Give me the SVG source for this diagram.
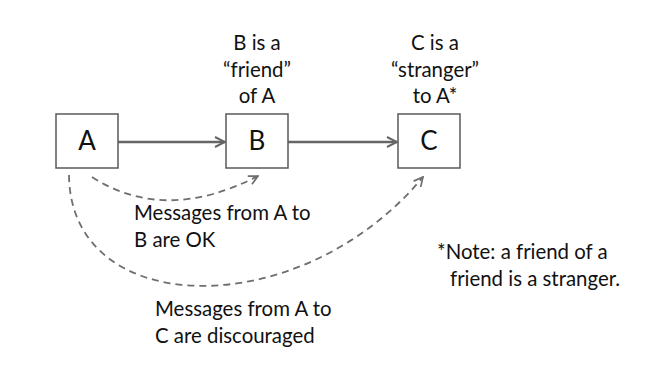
<svg xmlns="http://www.w3.org/2000/svg" width="655" height="378" viewBox="0 0 655 378">
  <style>
    .box { fill: #ffffff; stroke: #595959; stroke-width: 1.5; }
    .big { font-family: Lato, "Open Sans", "Liberation Sans", sans-serif; font-size: 26px; fill: #111; text-anchor: middle; }
    .lbl { font-family: Lato, "Open Sans", "Liberation Sans", sans-serif; font-size: 20.4px; fill: #111; }
    .mid { text-anchor: middle; }
    .solid { fill: none; stroke: #666; stroke-width: 2.5; }
    .dash { fill: none; stroke: #6e6e6e; stroke-width: 1.8; stroke-dasharray: 7 5; }
  </style>
  <defs>
    <marker id="open" viewBox="0 0 12 12" refX="11" refY="6" markerWidth="12" markerHeight="12" markerUnits="userSpaceOnUse" orient="auto">
      <path d="M1,1 L11,6 L1,11" fill="none" stroke="#666" stroke-width="2"/>
    </marker>
    <marker id="openThin" viewBox="0 0 12 12" refX="11" refY="6" markerWidth="11" markerHeight="11" markerUnits="userSpaceOnUse" orient="auto">
      <path d="M1,1 L11,6 L1,11" fill="none" stroke="#6e6e6e" stroke-width="1.8"/>
    </marker>
  </defs>

  <g id="connectors">
    <line class="solid" x1="118" y1="142" x2="225" y2="142" marker-end="url(#open)"/>
    <line class="solid" x1="288" y1="142" x2="397" y2="142" marker-end="url(#open)"/>
    <path class="dash" d="M92,177 Q165,224 258,176" marker-end="url(#openThin)"/>
    <path class="dash" d="M69,175 C70,320 300,325 423,177" marker-end="url(#openThin)"/>
  </g>

  <g id="node-a">
    <rect class="box" x="56" y="114" width="62" height="54"/>
    <text class="big" x="87" y="150">A</text>
  </g>
  <g id="node-b">
    <rect class="box" x="226" y="114" width="62" height="54"/>
    <text class="big" x="257" y="150">B</text>
    <text class="lbl mid" x="257" y="50">B is a</text>
    <text class="lbl mid" x="257" y="77">“friend”</text>
    <text class="lbl mid" x="257" y="103">of A</text>
  </g>
  <g id="node-c">
    <rect class="box" x="398" y="114" width="62" height="54"/>
    <text class="big" x="429" y="150">C</text>
    <text class="lbl mid" x="435" y="50">C is a</text>
    <text class="lbl mid" x="435" y="77">“stranger”</text>
    <text class="lbl mid" x="435" y="103">to A*</text>
  </g>

  <g id="label-ok">
    <text class="lbl" x="134" y="220">Messages from A to</text>
    <text class="lbl" x="134" y="247">B are OK</text>
  </g>
  <g id="label-discouraged">
    <text class="lbl" x="155" y="316">Messages from A to</text>
    <text class="lbl" x="155" y="343">C are discouraged</text>
  </g>
  <g id="note">
    <text class="lbl" x="437" y="259">*Note: a friend of a</text>
    <text class="lbl" x="450" y="286">friend is a stranger.</text>
  </g>
</svg>
